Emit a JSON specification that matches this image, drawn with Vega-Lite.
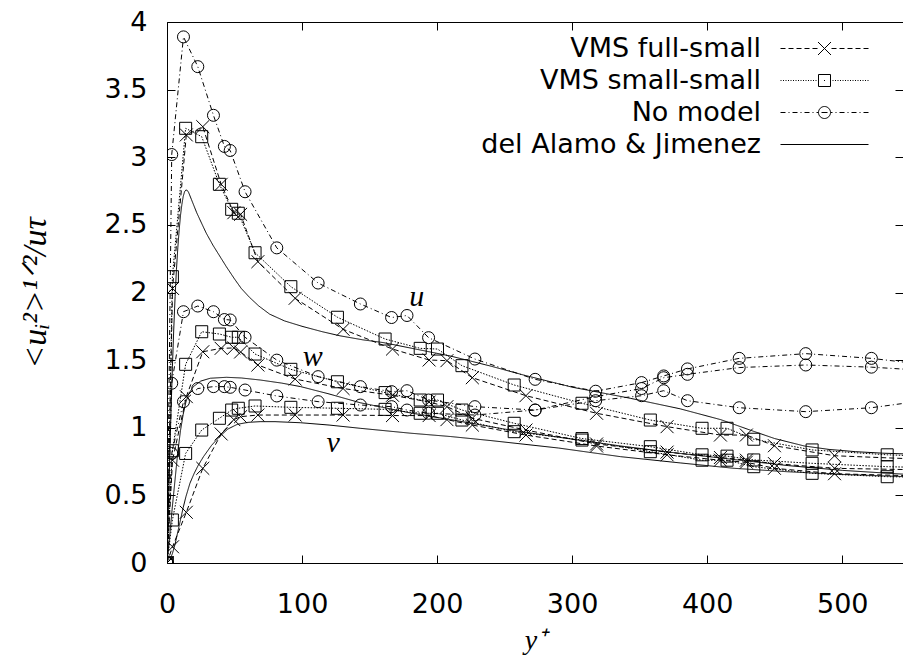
{
 "$schema": "https://vega.github.io/schema/vega-lite/v6.json",
 "width": 736, "height": 541,
 "autosize": {"type": "none"},
 "padding": {"left": 167, "top": 22, "right": 0, "bottom": 97},
 "background": "white",
 "config": {
  "view": {"stroke": "black", "strokeWidth": 1},
  "axis": {"domainColor": "black", "tickColor": "black", "labelColor": "black", "titleColor": "black", "grid": false, "labelFont": "DejaVu Sans", "labelFontSize": 27, "labelFlush": false, "labelOverlap": false, "labelBound": false, "domainWidth": 1, "tickWidth": 1}
 },
 "datasets": {
  "profiles": [
   {"model":"VMS full-small","comp":"u","yplus":0,"rms":0},{"model":"VMS full-small","comp":"u","yplus":4.1,"rms":2.03},{"model":"VMS full-small","comp":"u","yplus":14.3,"rms":3.165},{"model":"VMS full-small","comp":"u","yplus":26.5,"rms":3.226},{"model":"VMS full-small","comp":"u","yplus":40.1,"rms":2.8},{"model":"VMS full-small","comp":"u","yplus":49.5,"rms":2.59},{"model":"VMS full-small","comp":"u","yplus":54.5,"rms":2.578},{"model":"VMS full-small","comp":"u","yplus":67.3,"rms":2.228},{"model":"VMS full-small","comp":"u","yplus":94.9,"rms":1.957},{"model":"VMS full-small","comp":"u","yplus":130.4,"rms":1.728},{"model":"VMS full-small","comp":"u","yplus":167,"rms":1.582},{"model":"VMS full-small","comp":"u","yplus":194.1,"rms":1.501},{"model":"VMS full-small","comp":"u","yplus":207.3,"rms":1.496},{"model":"VMS full-small","comp":"u","yplus":226.1,"rms":1.37},{"model":"VMS full-small","comp":"u","yplus":265.8,"rms":1.237},{"model":"VMS full-small","comp":"u","yplus":318.1,"rms":1.107},{"model":"VMS full-small","comp":"u","yplus":370.3,"rms":1.008},{"model":"VMS full-small","comp":"u","yplus":409.8,"rms":0.946},{"model":"VMS full-small","comp":"u","yplus":429,"rms":0.946},{"model":"VMS full-small","comp":"u","yplus":449.8,"rms":0.867},{"model":"VMS full-small","comp":"u","yplus":494.3,"rms":0.793},{"model":"VMS full-small","comp":"u","yplus":552,"rms":0.77},
   {"model":"VMS full-small","comp":"w","yplus":0,"rms":0},{"model":"VMS full-small","comp":"w","yplus":4.1,"rms":0.76},{"model":"VMS full-small","comp":"w","yplus":14.3,"rms":1.23},{"model":"VMS full-small","comp":"w","yplus":26.5,"rms":1.562},{"model":"VMS full-small","comp":"w","yplus":40.1,"rms":1.587},{"model":"VMS full-small","comp":"w","yplus":49.5,"rms":1.59},{"model":"VMS full-small","comp":"w","yplus":54.5,"rms":1.56},{"model":"VMS full-small","comp":"w","yplus":67.3,"rms":1.464},{"model":"VMS full-small","comp":"w","yplus":94.9,"rms":1.36},{"model":"VMS full-small","comp":"w","yplus":130.4,"rms":1.29},{"model":"VMS full-small","comp":"w","yplus":167,"rms":1.24},{"model":"VMS full-small","comp":"w","yplus":194.1,"rms":1.19},{"model":"VMS full-small","comp":"w","yplus":207.3,"rms":1.156},{"model":"VMS full-small","comp":"w","yplus":226.1,"rms":1.07},{"model":"VMS full-small","comp":"w","yplus":265.8,"rms":0.983},{"model":"VMS full-small","comp":"w","yplus":318.1,"rms":0.88},{"model":"VMS full-small","comp":"w","yplus":370.3,"rms":0.82},{"model":"VMS full-small","comp":"w","yplus":409.8,"rms":0.78},{"model":"VMS full-small","comp":"w","yplus":429,"rms":0.76},{"model":"VMS full-small","comp":"w","yplus":449.8,"rms":0.735},{"model":"VMS full-small","comp":"w","yplus":494.3,"rms":0.7},{"model":"VMS full-small","comp":"w","yplus":552,"rms":0.69},
   {"model":"VMS full-small","comp":"v","yplus":0,"rms":0},{"model":"VMS full-small","comp":"v","yplus":4.1,"rms":0.12},{"model":"VMS full-small","comp":"v","yplus":14.3,"rms":0.375},{"model":"VMS full-small","comp":"v","yplus":26.5,"rms":0.7},{"model":"VMS full-small","comp":"v","yplus":40.1,"rms":0.954},{"model":"VMS full-small","comp":"v","yplus":49.5,"rms":1.06},{"model":"VMS full-small","comp":"v","yplus":54.5,"rms":1.082},{"model":"VMS full-small","comp":"v","yplus":67.3,"rms":1.094},{"model":"VMS full-small","comp":"v","yplus":94.9,"rms":1.094},{"model":"VMS full-small","comp":"v","yplus":130.4,"rms":1.094},{"model":"VMS full-small","comp":"v","yplus":167,"rms":1.09},{"model":"VMS full-small","comp":"v","yplus":194.1,"rms":1.09},{"model":"VMS full-small","comp":"v","yplus":207.3,"rms":1.06},{"model":"VMS full-small","comp":"v","yplus":226.1,"rms":1.02},{"model":"VMS full-small","comp":"v","yplus":265.8,"rms":0.946},{"model":"VMS full-small","comp":"v","yplus":318.1,"rms":0.865},{"model":"VMS full-small","comp":"v","yplus":370.3,"rms":0.8},{"model":"VMS full-small","comp":"v","yplus":409.8,"rms":0.76},{"model":"VMS full-small","comp":"v","yplus":429,"rms":0.745},{"model":"VMS full-small","comp":"v","yplus":449.8,"rms":0.7},{"model":"VMS full-small","comp":"v","yplus":494.3,"rms":0.66},{"model":"VMS full-small","comp":"v","yplus":552,"rms":0.645},
   {"model":"VMS small-small","comp":"u","yplus":0,"rms":0},{"model":"VMS small-small","comp":"u","yplus":4,"rms":2.117},{"model":"VMS small-small","comp":"u","yplus":13.8,"rms":3.214},{"model":"VMS small-small","comp":"u","yplus":25.7,"rms":3.152},{"model":"VMS small-small","comp":"u","yplus":38.8,"rms":2.8},{"model":"VMS small-small","comp":"u","yplus":47.9,"rms":2.615},{"model":"VMS small-small","comp":"u","yplus":52.8,"rms":2.586},{"model":"VMS small-small","comp":"u","yplus":65.2,"rms":2.294},{"model":"VMS small-small","comp":"u","yplus":91.7,"rms":2.043},{"model":"VMS small-small","comp":"u","yplus":126.2,"rms":1.817},{"model":"VMS small-small","comp":"u","yplus":161.5,"rms":1.656},{"model":"VMS small-small","comp":"u","yplus":187.5,"rms":1.587},{"model":"VMS small-small","comp":"u","yplus":200.3,"rms":1.582},{"model":"VMS small-small","comp":"u","yplus":218.4,"rms":1.459},{"model":"VMS small-small","comp":"u","yplus":257.1,"rms":1.316},{"model":"VMS small-small","comp":"u","yplus":307.3,"rms":1.181},{"model":"VMS small-small","comp":"u","yplus":357.9,"rms":1.057},{"model":"VMS small-small","comp":"u","yplus":396.2,"rms":0.996},{"model":"VMS small-small","comp":"u","yplus":414.7,"rms":0.996},{"model":"VMS small-small","comp":"u","yplus":434.5,"rms":0.915},{"model":"VMS small-small","comp":"u","yplus":477.7,"rms":0.836},{"model":"VMS small-small","comp":"u","yplus":533.3,"rms":0.8},{"model":"VMS small-small","comp":"u","yplus":588,"rms":0.78},
   {"model":"VMS small-small","comp":"w","yplus":0,"rms":0},{"model":"VMS small-small","comp":"w","yplus":4,"rms":0.83},{"model":"VMS small-small","comp":"w","yplus":13.8,"rms":1.469},{"model":"VMS small-small","comp":"w","yplus":25.7,"rms":1.71},{"model":"VMS small-small","comp":"w","yplus":38.8,"rms":1.693},{"model":"VMS small-small","comp":"w","yplus":47.9,"rms":1.669},{"model":"VMS small-small","comp":"w","yplus":52.8,"rms":1.669},{"model":"VMS small-small","comp":"w","yplus":65.2,"rms":1.545},{"model":"VMS small-small","comp":"w","yplus":91.7,"rms":1.432},{"model":"VMS small-small","comp":"w","yplus":126.2,"rms":1.34},{"model":"VMS small-small","comp":"w","yplus":161.5,"rms":1.26},{"model":"VMS small-small","comp":"w","yplus":187.5,"rms":1.205},{"model":"VMS small-small","comp":"w","yplus":200.3,"rms":1.205},{"model":"VMS small-small","comp":"w","yplus":218.4,"rms":1.131},{"model":"VMS small-small","comp":"w","yplus":257.1,"rms":1.033},{"model":"VMS small-small","comp":"w","yplus":307.3,"rms":0.92},{"model":"VMS small-small","comp":"w","yplus":357.9,"rms":0.86},{"model":"VMS small-small","comp":"w","yplus":396.2,"rms":0.8},{"model":"VMS small-small","comp":"w","yplus":414.7,"rms":0.79},{"model":"VMS small-small","comp":"w","yplus":434.5,"rms":0.762},{"model":"VMS small-small","comp":"w","yplus":477.7,"rms":0.737},{"model":"VMS small-small","comp":"w","yplus":533.3,"rms":0.712},{"model":"VMS small-small","comp":"w","yplus":588,"rms":0.7},
   {"model":"VMS small-small","comp":"v","yplus":0,"rms":0},{"model":"VMS small-small","comp":"v","yplus":4,"rms":0.318},{"model":"VMS small-small","comp":"v","yplus":13.8,"rms":0.81},{"model":"VMS small-small","comp":"v","yplus":25.7,"rms":0.983},{"model":"VMS small-small","comp":"v","yplus":38.8,"rms":1.07},{"model":"VMS small-small","comp":"v","yplus":47.9,"rms":1.131},{"model":"VMS small-small","comp":"v","yplus":52.8,"rms":1.144},{"model":"VMS small-small","comp":"v","yplus":65.2,"rms":1.161},{"model":"VMS small-small","comp":"v","yplus":91.7,"rms":1.151},{"model":"VMS small-small","comp":"v","yplus":126.2,"rms":1.144},{"model":"VMS small-small","comp":"v","yplus":161.5,"rms":1.136},{"model":"VMS small-small","comp":"v","yplus":187.5,"rms":1.107},{"model":"VMS small-small","comp":"v","yplus":200.3,"rms":1.107},{"model":"VMS small-small","comp":"v","yplus":218.4,"rms":1.057},{"model":"VMS small-small","comp":"v","yplus":257.1,"rms":0.971},{"model":"VMS small-small","comp":"v","yplus":307.3,"rms":0.909},{"model":"VMS small-small","comp":"v","yplus":357.9,"rms":0.823},{"model":"VMS small-small","comp":"v","yplus":396.2,"rms":0.76},{"model":"VMS small-small","comp":"v","yplus":414.7,"rms":0.76},{"model":"VMS small-small","comp":"v","yplus":434.5,"rms":0.712},{"model":"VMS small-small","comp":"v","yplus":477.7,"rms":0.663},{"model":"VMS small-small","comp":"v","yplus":533.3,"rms":0.638},{"model":"VMS small-small","comp":"v","yplus":588,"rms":0.63},
   {"model":"No model","comp":"u","yplus":0,"rms":0},{"model":"No model","comp":"u","yplus":3.5,"rms":3.02},{"model":"No model","comp":"u","yplus":12.2,"rms":3.89},{"model":"No model","comp":"u","yplus":22.8,"rms":3.67},{"model":"No model","comp":"u","yplus":34.4,"rms":3.31},{"model":"No model","comp":"u","yplus":42.5,"rms":3.08},{"model":"No model","comp":"u","yplus":46.8,"rms":3.05},{"model":"No model","comp":"u","yplus":57.8,"rms":2.745},{"model":"No model","comp":"u","yplus":81.3,"rms":2.33},{"model":"No model","comp":"u","yplus":111.9,"rms":2.07},{"model":"No model","comp":"u","yplus":143.2,"rms":1.915},{"model":"No model","comp":"u","yplus":166.3,"rms":1.815},{"model":"No model","comp":"u","yplus":177.7,"rms":1.83},{"model":"No model","comp":"u","yplus":193.7,"rms":1.666},{"model":"No model","comp":"u","yplus":228,"rms":1.508},{"model":"No model","comp":"u","yplus":272.6,"rms":1.358},{"model":"No model","comp":"u","yplus":317.4,"rms":1.27},{"model":"No model","comp":"u","yplus":351.4,"rms":1.334},{"model":"No model","comp":"u","yplus":367.8,"rms":1.383},{"model":"No model","comp":"u","yplus":385.4,"rms":1.435},{"model":"No model","comp":"u","yplus":423.7,"rms":1.513},{"model":"No model","comp":"u","yplus":473,"rms":1.548},{"model":"No model","comp":"u","yplus":521.6,"rms":1.513},{"model":"No model","comp":"u","yplus":567.7,"rms":1.46},
   {"model":"No model","comp":"w","yplus":0,"rms":0},{"model":"No model","comp":"w","yplus":3.5,"rms":1.329},{"model":"No model","comp":"w","yplus":12.2,"rms":1.858},{"model":"No model","comp":"w","yplus":22.8,"rms":1.9},{"model":"No model","comp":"w","yplus":34.4,"rms":1.858},{"model":"No model","comp":"w","yplus":42.5,"rms":1.8},{"model":"No model","comp":"w","yplus":46.8,"rms":1.797},{"model":"No model","comp":"w","yplus":57.8,"rms":1.669},{"model":"No model","comp":"w","yplus":81.3,"rms":1.5},{"model":"No model","comp":"w","yplus":111.9,"rms":1.378},{"model":"No model","comp":"w","yplus":143.2,"rms":1.304},{"model":"No model","comp":"w","yplus":166.3,"rms":1.267},{"model":"No model","comp":"w","yplus":177.7,"rms":1.274},{"model":"No model","comp":"w","yplus":193.7,"rms":1.205},{"model":"No model","comp":"w","yplus":228,"rms":1.156},{"model":"No model","comp":"w","yplus":272.6,"rms":1.131},{"model":"No model","comp":"w","yplus":317.4,"rms":1.23},{"model":"No model","comp":"w","yplus":351.4,"rms":1.29},{"model":"No model","comp":"w","yplus":367.8,"rms":1.37},{"model":"No model","comp":"w","yplus":385.4,"rms":1.395},{"model":"No model","comp":"w","yplus":423.7,"rms":1.445},{"model":"No model","comp":"w","yplus":473,"rms":1.464},{"model":"No model","comp":"w","yplus":521.6,"rms":1.448},{"model":"No model","comp":"w","yplus":567.7,"rms":1.42},
   {"model":"No model","comp":"v","yplus":0,"rms":0},{"model":"No model","comp":"v","yplus":3.5,"rms":0.81},{"model":"No model","comp":"v","yplus":12.2,"rms":1.193},{"model":"No model","comp":"v","yplus":22.8,"rms":1.29},{"model":"No model","comp":"v","yplus":34.4,"rms":1.304},{"model":"No model","comp":"v","yplus":42.5,"rms":1.304},{"model":"No model","comp":"v","yplus":46.8,"rms":1.299},{"model":"No model","comp":"v","yplus":57.8,"rms":1.279},{"model":"No model","comp":"v","yplus":81.3,"rms":1.235},{"model":"No model","comp":"v","yplus":111.9,"rms":1.193},{"model":"No model","comp":"v","yplus":143.2,"rms":1.168},{"model":"No model","comp":"v","yplus":166.3,"rms":1.156},{"model":"No model","comp":"v","yplus":177.7,"rms":1.131},{"model":"No model","comp":"v","yplus":193.7,"rms":1.107},{"model":"No model","comp":"v","yplus":228,"rms":1.094},{"model":"No model","comp":"v","yplus":272.6,"rms":1.131},{"model":"No model","comp":"v","yplus":317.4,"rms":1.2},{"model":"No model","comp":"v","yplus":351.4,"rms":1.237},{"model":"No model","comp":"v","yplus":367.8,"rms":1.274},{"model":"No model","comp":"v","yplus":385.4,"rms":1.2},{"model":"No model","comp":"v","yplus":423.7,"rms":1.148},{"model":"No model","comp":"v","yplus":473,"rms":1.119},{"model":"No model","comp":"v","yplus":521.6,"rms":1.148},{"model":"No model","comp":"v","yplus":567.7,"rms":1.21},
   {"model":"del Alamo & Jimenez","comp":"u","yplus":0,"rms":0},{"model":"del Alamo & Jimenez","comp":"u","yplus":1,"rms":0.4},{"model":"del Alamo & Jimenez","comp":"u","yplus":2,"rms":0.78},{"model":"del Alamo & Jimenez","comp":"u","yplus":3,"rms":1.13},{"model":"del Alamo & Jimenez","comp":"u","yplus":4,"rms":1.45},{"model":"del Alamo & Jimenez","comp":"u","yplus":5,"rms":1.73},{"model":"del Alamo & Jimenez","comp":"u","yplus":6,"rms":1.97},{"model":"del Alamo & Jimenez","comp":"u","yplus":7,"rms":2.17},{"model":"del Alamo & Jimenez","comp":"u","yplus":8,"rms":2.33},{"model":"del Alamo & Jimenez","comp":"u","yplus":9,"rms":2.46},{"model":"del Alamo & Jimenez","comp":"u","yplus":10,"rms":2.57},{"model":"del Alamo & Jimenez","comp":"u","yplus":11,"rms":2.65},{"model":"del Alamo & Jimenez","comp":"u","yplus":12,"rms":2.71},{"model":"del Alamo & Jimenez","comp":"u","yplus":13,"rms":2.745},{"model":"del Alamo & Jimenez","comp":"u","yplus":14,"rms":2.758},{"model":"del Alamo & Jimenez","comp":"u","yplus":15,"rms":2.755},{"model":"del Alamo & Jimenez","comp":"u","yplus":16,"rms":2.74},{"model":"del Alamo & Jimenez","comp":"u","yplus":18,"rms":2.69},{"model":"del Alamo & Jimenez","comp":"u","yplus":20,"rms":2.64},{"model":"del Alamo & Jimenez","comp":"u","yplus":22,"rms":2.59},{"model":"del Alamo & Jimenez","comp":"u","yplus":24.5,"rms":2.536},{"model":"del Alamo & Jimenez","comp":"u","yplus":29,"rms":2.44},{"model":"del Alamo & Jimenez","comp":"u","yplus":34,"rms":2.35},{"model":"del Alamo & Jimenez","comp":"u","yplus":39,"rms":2.27},{"model":"del Alamo & Jimenez","comp":"u","yplus":44,"rms":2.19},{"model":"del Alamo & Jimenez","comp":"u","yplus":50,"rms":2.1},{"model":"del Alamo & Jimenez","comp":"u","yplus":55,"rms":2.03},{"model":"del Alamo & Jimenez","comp":"u","yplus":61,"rms":1.965},{"model":"del Alamo & Jimenez","comp":"u","yplus":68,"rms":1.9},{"model":"del Alamo & Jimenez","comp":"u","yplus":76,"rms":1.84},{"model":"del Alamo & Jimenez","comp":"u","yplus":87,"rms":1.79},{"model":"del Alamo & Jimenez","comp":"u","yplus":100,"rms":1.75},{"model":"del Alamo & Jimenez","comp":"u","yplus":115,"rms":1.71},{"model":"del Alamo & Jimenez","comp":"u","yplus":128,"rms":1.68},{"model":"del Alamo & Jimenez","comp":"u","yplus":145,"rms":1.65},{"model":"del Alamo & Jimenez","comp":"u","yplus":160,"rms":1.63},{"model":"del Alamo & Jimenez","comp":"u","yplus":185,"rms":1.58},{"model":"del Alamo & Jimenez","comp":"u","yplus":210,"rms":1.53},{"model":"del Alamo & Jimenez","comp":"u","yplus":240,"rms":1.455},{"model":"del Alamo & Jimenez","comp":"u","yplus":264,"rms":1.39},{"model":"del Alamo & Jimenez","comp":"u","yplus":300,"rms":1.3},{"model":"del Alamo & Jimenez","comp":"u","yplus":343,"rms":1.218},{"model":"del Alamo & Jimenez","comp":"u","yplus":380,"rms":1.14},{"model":"del Alamo & Jimenez","comp":"u","yplus":410,"rms":1.06},{"model":"del Alamo & Jimenez","comp":"u","yplus":434,"rms":0.975},{"model":"del Alamo & Jimenez","comp":"u","yplus":450,"rms":0.92},{"model":"del Alamo & Jimenez","comp":"u","yplus":472,"rms":0.865},{"model":"del Alamo & Jimenez","comp":"u","yplus":490,"rms":0.84},{"model":"del Alamo & Jimenez","comp":"u","yplus":510,"rms":0.823},{"model":"del Alamo & Jimenez","comp":"u","yplus":530,"rms":0.812},{"model":"del Alamo & Jimenez","comp":"u","yplus":548,"rms":0.806},
   {"model":"del Alamo & Jimenez","comp":"v","yplus":0,"rms":0},{"model":"del Alamo & Jimenez","comp":"v","yplus":2,"rms":0.02},{"model":"del Alamo & Jimenez","comp":"v","yplus":4,"rms":0.07},{"model":"del Alamo & Jimenez","comp":"v","yplus":6,"rms":0.14},{"model":"del Alamo & Jimenez","comp":"v","yplus":8,"rms":0.23},{"model":"del Alamo & Jimenez","comp":"v","yplus":10,"rms":0.32},{"model":"del Alamo & Jimenez","comp":"v","yplus":12,"rms":0.41},{"model":"del Alamo & Jimenez","comp":"v","yplus":14,"rms":0.49},{"model":"del Alamo & Jimenez","comp":"v","yplus":17,"rms":0.59},{"model":"del Alamo & Jimenez","comp":"v","yplus":20,"rms":0.66},{"model":"del Alamo & Jimenez","comp":"v","yplus":23,"rms":0.72},{"model":"del Alamo & Jimenez","comp":"v","yplus":27,"rms":0.786},{"model":"del Alamo & Jimenez","comp":"v","yplus":33,"rms":0.87},{"model":"del Alamo & Jimenez","comp":"v","yplus":39,"rms":0.935},{"model":"del Alamo & Jimenez","comp":"v","yplus":45,"rms":0.99},{"model":"del Alamo & Jimenez","comp":"v","yplus":52,"rms":1.025},{"model":"del Alamo & Jimenez","comp":"v","yplus":60,"rms":1.04},{"model":"del Alamo & Jimenez","comp":"v","yplus":69,"rms":1.045},{"model":"del Alamo & Jimenez","comp":"v","yplus":80,"rms":1.045},{"model":"del Alamo & Jimenez","comp":"v","yplus":99,"rms":1.037},{"model":"del Alamo & Jimenez","comp":"v","yplus":120,"rms":1.02},{"model":"del Alamo & Jimenez","comp":"v","yplus":143,"rms":0.996},{"model":"del Alamo & Jimenez","comp":"v","yplus":180,"rms":0.96},{"model":"del Alamo & Jimenez","comp":"v","yplus":210,"rms":0.935},{"model":"del Alamo & Jimenez","comp":"v","yplus":240,"rms":0.905},{"model":"del Alamo & Jimenez","comp":"v","yplus":290,"rms":0.85},{"model":"del Alamo & Jimenez","comp":"v","yplus":336,"rms":0.786},{"model":"del Alamo & Jimenez","comp":"v","yplus":380,"rms":0.74},{"model":"del Alamo & Jimenez","comp":"v","yplus":420,"rms":0.7},{"model":"del Alamo & Jimenez","comp":"v","yplus":459,"rms":0.675},{"model":"del Alamo & Jimenez","comp":"v","yplus":500,"rms":0.655},{"model":"del Alamo & Jimenez","comp":"v","yplus":548,"rms":0.638},
   {"model":"del Alamo & Jimenez","comp":"w","yplus":0,"rms":0},{"model":"del Alamo & Jimenez","comp":"w","yplus":2,"rms":0.2},{"model":"del Alamo & Jimenez","comp":"w","yplus":4,"rms":0.42},{"model":"del Alamo & Jimenez","comp":"w","yplus":6,"rms":0.62},{"model":"del Alamo & Jimenez","comp":"w","yplus":8,"rms":0.82},{"model":"del Alamo & Jimenez","comp":"w","yplus":10,"rms":0.98},{"model":"del Alamo & Jimenez","comp":"w","yplus":12,"rms":1.1},{"model":"del Alamo & Jimenez","comp":"w","yplus":14,"rms":1.19},{"model":"del Alamo & Jimenez","comp":"w","yplus":16,"rms":1.25},{"model":"del Alamo & Jimenez","comp":"w","yplus":19.5,"rms":1.304},{"model":"del Alamo & Jimenez","comp":"w","yplus":25,"rms":1.345},{"model":"del Alamo & Jimenez","comp":"w","yplus":32,"rms":1.366},{"model":"del Alamo & Jimenez","comp":"w","yplus":44,"rms":1.373},{"model":"del Alamo & Jimenez","comp":"w","yplus":55,"rms":1.368},{"model":"del Alamo & Jimenez","comp":"w","yplus":69,"rms":1.353},{"model":"del Alamo & Jimenez","comp":"w","yplus":85,"rms":1.33},{"model":"del Alamo & Jimenez","comp":"w","yplus":99,"rms":1.304},{"model":"del Alamo & Jimenez","comp":"w","yplus":120,"rms":1.25},{"model":"del Alamo & Jimenez","comp":"w","yplus":143,"rms":1.185},{"model":"del Alamo & Jimenez","comp":"w","yplus":180,"rms":1.11},{"model":"del Alamo & Jimenez","comp":"w","yplus":210,"rms":1.06},{"model":"del Alamo & Jimenez","comp":"w","yplus":250,"rms":0.99},{"model":"del Alamo & Jimenez","comp":"w","yplus":290,"rms":0.93},{"model":"del Alamo & Jimenez","comp":"w","yplus":336,"rms":0.865},{"model":"del Alamo & Jimenez","comp":"w","yplus":380,"rms":0.81},{"model":"del Alamo & Jimenez","comp":"w","yplus":420,"rms":0.765},{"model":"del Alamo & Jimenez","comp":"w","yplus":460,"rms":0.72},{"model":"del Alamo & Jimenez","comp":"w","yplus":500,"rms":0.685},{"model":"del Alamo & Jimenez","comp":"w","yplus":548,"rms":0.655}
  ],
  "legendrows": [
   {"model":"VMS full-small"},{"model":"VMS small-small"},{"model":"No model"},{"model":"del Alamo & Jimenez"}
  ],
  "annotations": [
   {"label":"u","yplus":185,"rms":1.97},
   {"label":"w","yplus":108,"rms":1.52},
   {"label":"v","yplus":123,"rms":0.885}
  ]
 },
 "layer": [
  {
   "data": {"name": "profiles"},
   "mark": {"type": "line", "clip": true, "color": "black", "strokeWidth": 1},
   "encoding": {
    "x": {"field": "yplus", "type": "quantitative", "scale": {"domain": [0, 545], "nice": false, "zero": false},
          "axis": {"orient": "bottom", "values": [0,100,200,300,400,500], "format": "d", "ticks": false, "tickSize": 0, "domain": false, "labelPadding": 28,
                   "title": "y⁺", "titleFont": "Liberation Serif", "titleFontStyle": "italic", "titleFontWeight": "normal", "titleFontSize": 28, "titlePadding": 9}},
    "y": {"field": "rms", "type": "quantitative", "scale": {"domain": [0, 4], "nice": false},
          "axis": {"orient": "left", "values": [0,0.5,1,1.5,2,2.5,3,3.5,4], "format": "~g", "ticks": false, "tickSize": 0, "domain": false, "labelPadding": 20,
                   "title": "<uᵢ²>¹ᐟ²/uτ", "titleFont": "Liberation Serif", "titleFontStyle": "italic", "titleFontWeight": "normal", "titleFontSize": 34, "titlePadding": 52}},
    "strokeDash": {"field": "model", "type": "nominal",
                   "scale": {"domain": ["VMS full-small","VMS small-small","No model","del Alamo & Jimenez"], "range": [[5,3],[1.5,1.5],[5,3,1,3],[1,0]]},
                   "legend": null},
    "detail": {"field": "comp", "type": "nominal"}
   }
  },
  {
   "data": {"name": "profiles"},
   "transform": [{"filter": "datum.model !== 'del Alamo & Jimenez'"}],
   "mark": {"type": "point", "clip": true, "filled": false, "color": "black", "strokeWidth": 1, "opacity": 1, "size": 144},
   "encoding": {
    "x": {"field": "yplus", "type": "quantitative", "axis": {"orient": "bottom", "values": [0,100,200,300,400,500], "labels": false, "domain": false, "ticks": true, "tickSize": 8, "offset": -8, "title": null}},
    "y": {"field": "rms", "type": "quantitative", "axis": {"orient": "left", "values": [0,0.5,1,1.5,2,2.5,3,3.5,4], "labels": false, "domain": false, "ticks": true, "tickSize": 8, "offset": -8, "title": null}},
    "shape": {"field": "model", "type": "nominal",
              "scale": {"domain": ["VMS full-small","VMS small-small","No model"], "range": ["M-1.08,-1.08L1.08,1.08M-1.08,1.08L1.08,-1.08", "square", "circle"]},
              "legend": null}
   }
  },
  {
   "data": {"name": "legendrows"},
   "mark": {"type": "point", "filled": false, "color": "black", "opacity": 0},
   "encoding": {
    "shape": {"field": "model", "type": "nominal",
              "scale": {"domain": ["VMS full-small","VMS small-small","No model","del Alamo & Jimenez"],
                        "range": [
                         "M-4.4,0H-3.9M-3.6,0H-3.1M-2.8,0H-2.3M-2,0H-1.5M-1.2,0H-0.7M0.7,0H1.2M1.5,0H2M2.3,0H2.8M3.1,0H3.6M3.9,0H4.4M-0.65,-0.65L0.65,0.65M-0.65,0.65L0.65,-0.65",
                         "M-4.4,0H-4.3M-4.15,0H-4.05M-3.9,0H-3.8M-3.65,0H-3.55M-3.4,0H-3.3M-3.15,0H-3.05M-2.9,0H-2.8M-2.65,0H-2.55M-2.4,0H-2.3M-2.15,0H-2.05M-1.9,0H-1.8M-1.65,0H-1.55M-1.4,0H-1.3M-1.15,0H-1.05M-0.9,0H-0.8M-0.05,0H0.05M0.8,0H0.9M1.05,0H1.15M1.3,0H1.4M1.55,0H1.65M1.8,0H1.9M2.05,0H2.15M2.3,0H2.4M2.55,0H2.65M2.8,0H2.9M3.05,0H3.15M3.3,0H3.4M3.55,0H3.65M3.8,0H3.9M4.05,0H4.15M4.3,0H4.4M-0.6,-0.6H0.6V0.6H-0.6Z",
                         "M-4.4,0H-3.9M-3.6,0H-3.5M-3.2,0H-2.7M-2.4,0H-2.3M-2,0H-1.5M-1.2,0H-1.1M-0.8,0H-0.6M-0.3,0H0.3M0.6,0H0.8M1.1,0H1.2M1.5,0H2M2.3,0H2.4M2.7,0H3.2M3.5,0H3.6M3.9,0H4.4M0.6,0C0.6,0.3314 0.3314,0.6 0,0.6C-0.3314,0.6 -0.6,0.3314 -0.6,0C-0.6,-0.3314 -0.3314,-0.6 0,-0.6C0.3314,-0.6 0.6,-0.3314 0.6,0Z",
                         "M-4.4,0H4.4"
                        ]},
              "legend": {"orient": "none", "legendX": 644, "legendY": 13, "title": null, "padding": 0,
                         "labelFont": "DejaVu Sans", "labelFontSize": 27, "labelColor": "black", "labelAlign": "right", "labelBaseline": "middle",
                         "labelOffset": -77, "labelLimit": 0, "symbolSize": 400, "symbolStrokeWidth": 1,
                         "symbolStrokeColor": "black", "symbolFillColor": "transparent", "symbolOpacity": 1, "rowPadding": 4}}
   }
  },
  {
   "data": {"name": "annotations"},
   "mark": {"type": "text", "font": "Liberation Serif", "fontStyle": "italic", "fontSize": 30, "color": "black", "align": "center", "baseline": "middle"},
   "encoding": {
    "x": {"field": "yplus", "type": "quantitative", "axis": {"orient": "top", "values": [0,100,200,300,400,500], "labels": false, "domain": false, "ticks": true, "tickSize": 8, "offset": -8, "title": null}},
    "y": {"field": "rms", "type": "quantitative", "axis": {"orient": "right", "values": [0,0.5,1,1.5,2,2.5,3,3.5,4], "labels": false, "domain": false, "ticks": true, "tickSize": 8, "offset": -8, "title": null}},
    "text": {"field": "label", "type": "nominal"}
   }
  }
 ],
 "resolve": {"scale": {"shape": "independent"}, "axis": {"x": "independent", "y": "independent"}}
}
